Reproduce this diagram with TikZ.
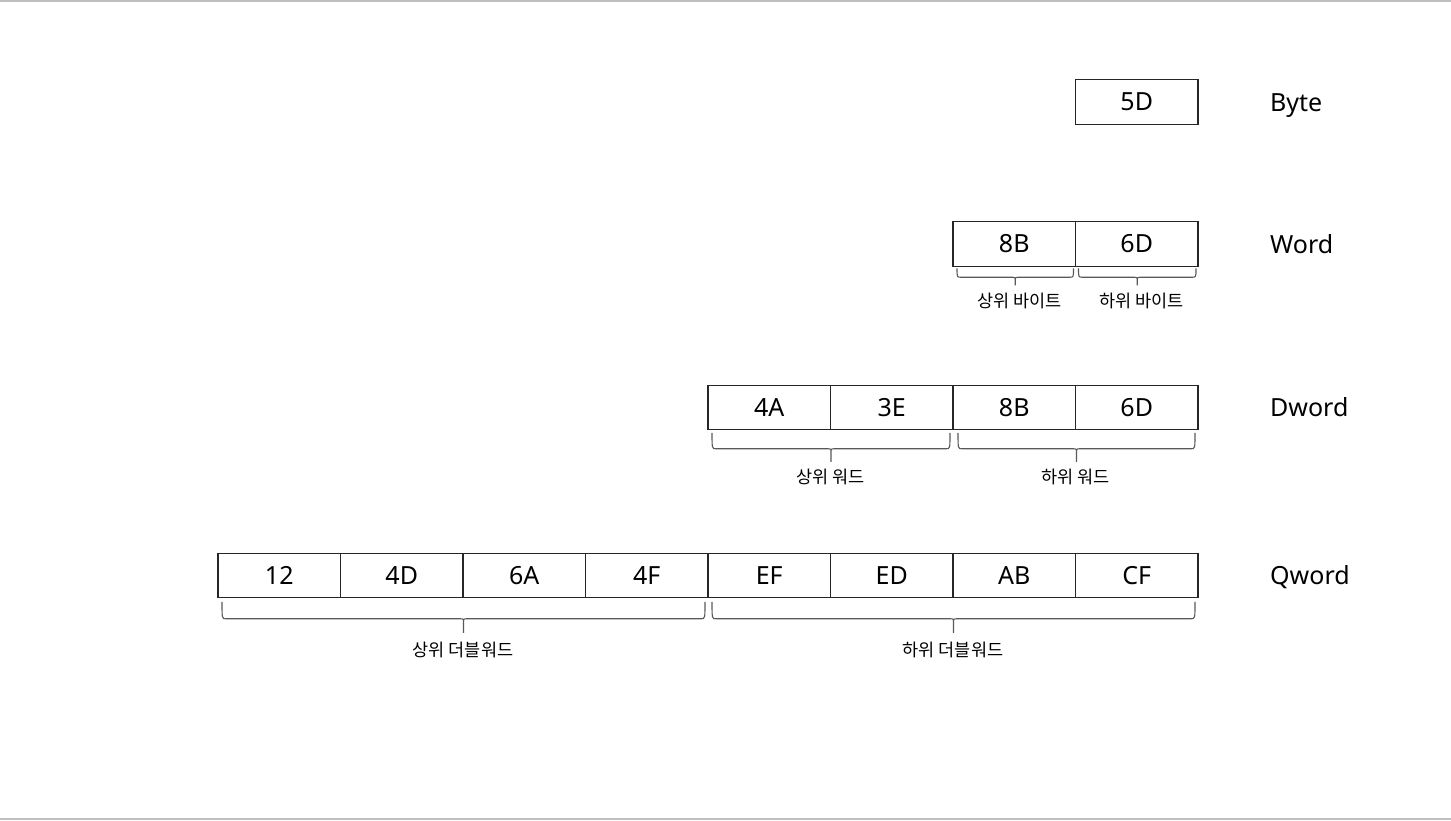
\documentclass[tikz,border=0pt]{standalone}
\usepackage{fontspec}
\setmainfont{Noto Sans}
\newfontfamily\kr{Noto Sans CJK KR}
\usetikzlibrary{calc}
\newcommand\mybrace[4]{%
 \draw[brc] let \p1=(#1), \p2=(#2), \p3=($(#1)!0.5!(#2)$) in
  (\x1,\y1) .. controls (\x1,\y1-#3) .. (\x1+4pt,\y1-#3) -- (\x3-4pt,\y1-#3) .. controls (\x3,\y1-#3) .. (\x3,\y1-#3-4pt) -- (\x3,\y1-#4)
  (\x2,\y1) .. controls (\x2,\y1-#3) .. (\x2-4pt,\y1-#3) -- (\x3+4pt,\y1-#3) .. controls (\x3,\y1-#3) .. (\x3,\y1-#3-4pt);
}
\begin{document}
\begin{tikzpicture}[x=1pt,y=-1pt,
 cell/.style={draw=black!85,line width=1.2pt,minimum width=122.5pt,minimum height=44.5pt,inner sep=0pt,outer sep=0pt,font=\fontsize{25}{25}\selectfont},
 tag/.style={anchor=base west,inner sep=0pt,font=\fontsize{25}{25}\selectfont},
 blabel/.style={inner sep=0pt,font=\kr\fontsize{17.5}{17.5}\selectfont},
 brc/.style={draw=black!65,line width=1.1pt},
 rule/.style={draw=black!25,line width=1.5pt}]
\useasboundingbox (0,0) rectangle (1451,820);
\draw[rule] (0,0.75) -- (1451,0.75);
\draw[rule] (0,818.8) -- (1451,818.8);
% Byte
\node[cell] (b1) at (1136.75,102) {5D};
\node[tag] (tb) at (1270,111) {Byte};
% Word
\node[cell] (w1) at (1014.25,244) {8B};
\node[cell] (w2) at (1136.75,244) {6D};
\node[tag] (tw) at (1270,253) {Word};
% Dword
\node[cell] (d1) at (769.25,407.5) {4A};
\node[cell] (d2) at (891.75,407.5) {3E};
\node[cell] (d3) at (1014.25,407.5) {8B};
\node[cell] (d4) at (1136.75,407.5) {6D};
\node[tag] (td) at (1270,416.5) {Dword};
% Qword
\node[cell] (q1) at (279.25,575.5) {12};
\node[cell] (q2) at (401.75,575.5) {4D};
\node[cell] (q3) at (524.25,575.5) {6A};
\node[cell] (q4) at (646.75,575.5) {4F};
\node[cell] (q5) at (769.25,575.5) {EF};
\node[cell] (q6) at (891.75,575.5) {ED};
\node[cell] (q7) at (1014.25,575.5) {AB};
\node[cell] (q8) at (1136.75,575.5) {CF};
\node[tag] (tq) at (1270,584.5) {Qword};
% Word braces
\coordinate (wa1) at ($(w1.south west)+(4,2)$);
\coordinate (wb1) at ($(w1.south east)+(-2,2)$);
\coordinate (wa2) at ($(w2.south west)+(3,2)$);
\coordinate (wb2) at ($(w2.south east)+(-2,2)$);
\mybrace{wa1}{wb1}{9pt}{17pt}
\mybrace{wa2}{wb2}{9pt}{17pt}
\node[blabel] (lw1) at ($(w1.south)+(5,35)$) {상위 바이트};
\node[blabel] (lw2) at ($(w2.south)+(5,35)$) {하위 바이트};
% Dword braces
\coordinate (da1) at ($(d1.south west)+(4,3)$);
\coordinate (db1) at ($(d2.south east)+(-3,3)$);
\coordinate (da2) at ($(d3.south west)+(5,3)$);
\coordinate (db2) at ($(d4.south east)+(-3,3)$);
\mybrace{da1}{db1}{16pt}{29pt}
\mybrace{da2}{db2}{16pt}{29pt}
\node[blabel] (ld1) at ($(d1.south east)+(0,47)$) {상위 워드};
\node[blabel] (ld2) at ($(d3.south east)+(0,47)$) {하위 워드};
% Qword braces
\coordinate (qa1) at ($(q1.south west)+(4,4)$);
\coordinate (qb1) at ($(q4.south east)+(-3,4)$);
\coordinate (qa2) at ($(q5.south west)+(4,4)$);
\coordinate (qb2) at ($(q8.south east)+(-3,4)$);
\mybrace{qa1}{qb1}{17pt}{31pt}
\mybrace{qa2}{qb2}{17pt}{31pt}
\node[blabel] (lq1) at ($(q2.south east)+(0,52)$) {상위 더블워드};
\node[blabel] (lq2) at ($(q6.south east)+(0,52)$) {하위 더블워드};
\end{tikzpicture}
\end{document}
